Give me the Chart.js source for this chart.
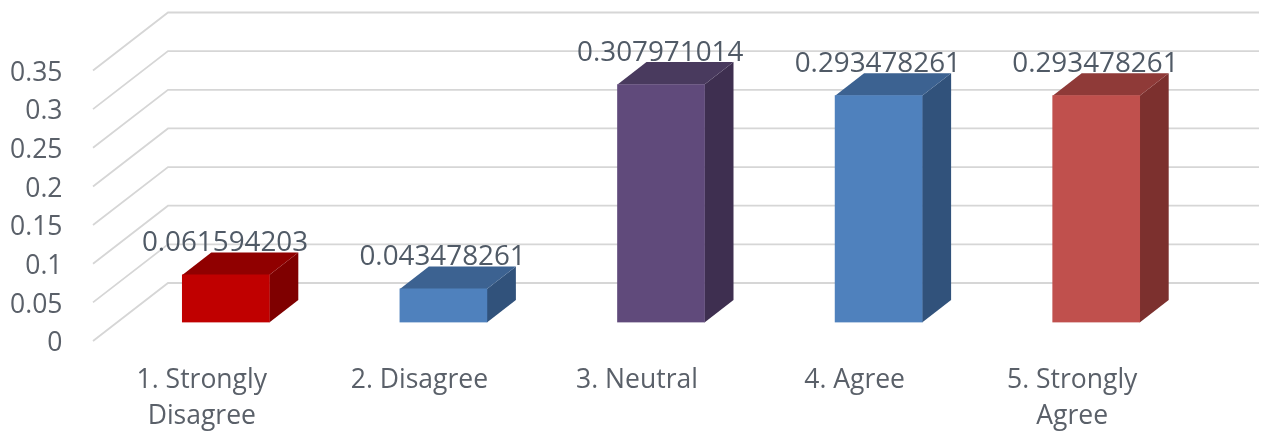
<!DOCTYPE html>
<html><head><meta charset="utf-8">
<style>html,body{margin:0;padding:0;background:#fff}canvas{display:block;filter:blur(0.45px)}</style>
<script src="https://cdn.jsdelivr.net/npm/chart.js@4"></script></head>
<body><div style="width:1261px;height:431px;position:relative"><canvas id="c"></canvas></div>
<script>
const categories = [["1. Strongly","Disagree"],["2. Disagree"],["3. Neutral"],["4. Agree"],["5. Strongly","Agree"]];
const values = [0.061594203,0.043478261,0.307971014,0.293478261,0.293478261];
const valueLabels = ["0.061594203","0.043478261","0.307971014","0.293478261","0.293478261"];
const frontColors = ["#c00000","#4f81bd","#604a7b","#4f81bd","#c0504d"];
const topColors = ["#900000","#3c6291","#493a5e","#3c6291","#8f3a38"];
const sideColors = ["#7f0000","#31527b","#3e2f50","#31527b","#7c302e"];
const font = "'Open Sans'";

const wallDepth = {x:75,y:-58};
const wallRightExtra = 3;
const barOffset = {x:24,y:-18.5};
const barDepth = {x:29,y:-22.5};

const threeD = {
  id:'threeD',
  beforeDatasetsDraw(chart){
    const {ctx,scales:{x,y}} = chart;
    ctx.save();
    ctx.strokeStyle='#d6d6d6';ctx.lineWidth=1.8;
    y.ticks.forEach(t=>{
      const py=y.getPixelForValue(t.value);
      ctx.beginPath();
      ctx.moveTo(x.left,py);
      ctx.lineTo(x.left+wallDepth.x,py+wallDepth.y);
      ctx.lineTo(x.right+wallDepth.x+wallRightExtra,py+wallDepth.y);
      ctx.stroke();
    });
    ctx.restore();
  },
  beforeDatasetDraw(chart){
    chart.ctx.save();
    chart.ctx.translate(barOffset.x,barOffset.y);
    const {ctx} = chart;
    chart.getDatasetMeta(0).data.forEach((b,i)=>{
      const l=b.x-b.width/2,r=b.x+b.width/2,t=b.y,bt=b.base;
      ctx.fillStyle=sideColors[i];
      ctx.beginPath();ctx.moveTo(r,t);ctx.lineTo(r+barDepth.x,t+barDepth.y);
      ctx.lineTo(r+barDepth.x,bt+barDepth.y);ctx.lineTo(r,bt);ctx.closePath();ctx.fill();
      ctx.fillStyle=topColors[i];
      ctx.beginPath();ctx.moveTo(l,t);ctx.lineTo(l+barDepth.x,t+barDepth.y);
      ctx.lineTo(r+barDepth.x,t+barDepth.y);ctx.lineTo(r,t);ctx.closePath();ctx.fill();
    });
  },
  afterDatasetDraw(chart){
    chart.ctx.restore();
    const {ctx} = chart;
    ctx.save();
    ctx.font="27.8px "+font;ctx.fillStyle='#505a66';ctx.textAlign='center';ctx.textBaseline='middle';
    chart.getDatasetMeta(0).data.forEach((b,i)=>{
      ctx.fillText(valueLabels[i],b.x+barOffset.x-0.8,b.y+barOffset.y-31.5);
    });
    ctx.restore();
  }
};

new Chart(document.getElementById('c'),{
  type:'bar',
  data:{labels:categories,datasets:[{data:values,backgroundColor:frontColors,barThickness:87,borderWidth:0}]},
  plugins:[threeD],
  options:{
    responsive:true,maintainAspectRatio:false,animation:false,
    layout:{padding:{top:70.5,right:80,left:0,bottom:0}},
    plugins:{legend:{display:false},tooltip:{enabled:false}},
    scales:{
      x:{
        grid:{display:false},border:{display:false},
        afterFit(s){s.height=90;},
        ticks:{color:'#5a6069',font:{family:font,size:26.5,lineHeight:1.36},padding:13,maxRotation:0,autoSkip:false}
      },
      y:{
        min:0,max:0.35,
        grid:{display:false},border:{display:false},
        afterFit(s){s.width=93;},
        ticks:{stepSize:0.05,color:'#5a6069',font:{family:font,size:26.5,lineHeight:0.2},padding:22.5,
          callback:v=>["",String(+v.toFixed(2))]}
      }
    }
  }
});
</script></body></html>
